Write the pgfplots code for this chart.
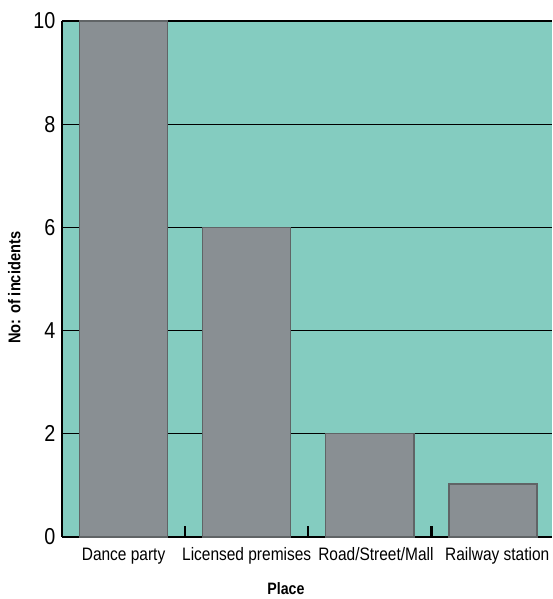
\documentclass[border=0pt]{standalone}
\usepackage{pgfplots}
\pgfplotsset{compat=1.18}
\usepackage{fontspec}
\setmainfont[FakeStretch=0.86]{Liberation Sans}
\definecolor{bgteal}{RGB}{132,204,192}
\definecolor{bargray}{RGB}{137,143,147}
\definecolor{baredge}{RGB}{96,100,102}
\begin{document}
\begin{tikzpicture}
\path[use as bounding box] (-62pt,-62pt) rectangle (490pt,537pt);
\begin{axis}[
  at={(0,0)}, anchor=south west,
  scale only axis, width=490pt, height=516pt,
  xmin=-0.5, xmax=3.48, ymin=0, ymax=10,
  axis lines*=left,
  axis line style={line width=2.6pt, black},
  axis background/.style={fill=bgteal},
  ymajorgrids, grid style={black, line width=1.3pt},
  ytick={0,2,4,6,8,10},
  ytick style={draw=none},
  yticklabel style={font=\fontsize{23}{25}\selectfont, xshift=-3pt},
  xtick={0,1,2.05,3.035},
  xticklabels={Dance party, Licensed premises, Road/Street/Mall, Railway station},
  xtick style={draw=none},
  xticklabel style={font=\fontsize{18}{20}\selectfont, yshift=-3pt},
  extra x ticks={0.5,1.5,2.5},
  extra x tick labels={},
  extra x tick style={tick style={draw=black, line width=2.4pt}, major tick length=11pt, tick align=inside, xtick style={draw=black}},
  /pgf/number format/assume math mode=true,
  xlabel={\textbf{Place}},
  xlabel style={font=\fontsize{16.5}{18}\selectfont, at={(axis description cs:0.457,0)}, anchor=north, yshift=-42pt},
  ylabel={\textbf{No: of incidents}},
  ylabel style={font=\fontsize{17}{19}\selectfont, at={(axis description cs:0,0.483)}, anchor=south, yshift=38pt},
  ybar, bar width=0.715,
]
\addplot[fill=bargray, draw=baredge, line width=1.4pt] coordinates {(0,10) (1,6) (2,2) (3,1.03)};
\end{axis}
\end{tikzpicture}
\end{document}
